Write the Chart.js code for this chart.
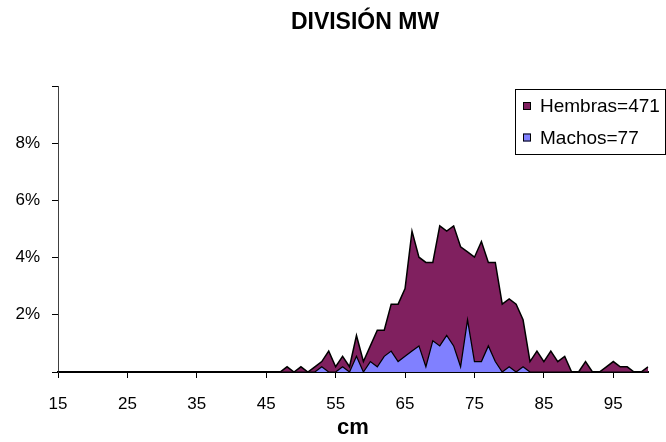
<!DOCTYPE html>
<html>
<head>
<meta charset="utf-8">
<title>División MW</title>
<script src="https://cdn.jsdelivr.net/npm/chart.js@4"></script>
<style>
  html, body { margin: 0; padding: 0; background: #fff; }
  #grafico { display: block; }
</style>
</head>
<body>
<canvas id="grafico" width="666" height="442"></canvas>
<script>
// tallas en cm, una categoría por centímetro
const tallas = [
  15, 16, 17, 18, 19, 20, 21, 22, 23, 24,
  25, 26, 27, 28, 29, 30, 31, 32, 33, 34,
  35, 36, 37, 38, 39, 40, 41, 42, 43, 44,
  45, 46, 47, 48, 49, 50, 51, 52, 53, 54,
  55, 56, 57, 58, 59, 60, 61, 62, 63, 64,
  65, 66, 67, 68, 69, 70, 71, 72, 73, 74,
  75, 76, 77, 78, 79, 80, 81, 82, 83, 84,
  85, 86, 87, 88, 89, 90, 91, 92, 93, 94,
  95, 96, 97, 98, 99, 100
];

// número de ejemplares por talla
const hembras = [
  0, 0, 0, 0, 0, 0, 0, 0, 0, 0,
  0, 0, 0, 0, 0, 0, 0, 0, 0, 0,
  0, 0, 0, 0, 0, 0, 0, 0, 0, 0,
  0, 0, 0, 1, 0, 1, 0, 1, 2, 4,
  1, 3, 1, 7, 2, 5, 8, 8, 13, 13,
  16, 27, 22, 21, 21, 28, 27, 28, 24, 23,
  22, 25, 21, 21, 13, 14, 13, 10, 2, 4,
  2, 4, 2, 3, 0, 0, 2, 0, 0, 1,
  2, 1, 1, 0, 0, 1
];
const machos = [
  0, 0, 0, 0, 0, 0, 0, 0, 0, 0,
  0, 0, 0, 0, 0, 0, 0, 0, 0, 0,
  0, 0, 0, 0, 0, 0, 0, 0, 0, 0,
  0, 0, 0, 0, 0, 0, 0, 0, 1, 0,
  0, 1, 0, 3, 0, 2, 1, 3, 4, 2,
  3, 4, 5, 1, 6, 5, 7, 5, 1, 10,
  2, 2, 5, 2, 0, 1, 0, 1, 0, 0,
  0, 0, 0, 0, 0, 0, 0, 0, 0, 0,
  0, 0, 0, 0, 0, 0
];

// etiquetas visibles en los ejes
const etiquetasX = [15, 25, 35, 45, 55, 65, 75, 85, 95];
const ticksY = [0, 2, 4, 6, 8, 10];
const etiquetasY = [2, 4, 6, 8];

const totalH = hembras.reduce((a, b) => a + b, 0);
const totalM = machos.reduce((a, b) => a + b, 0);
const total = totalH + totalM;
const pct = arr => arr.map(n => n * 100 / total);

const fuente = "'Liberation Sans', Arial, sans-serif";

// titulo y leyenda dibujados a mano
const extras = {
  id: 'extras',
  afterDraw(chart) {
    const ctx = chart.ctx;
    ctx.save();
    ctx.fillStyle = '#000';
    ctx.font = 'bold 23px ' + fuente;
    ctx.textAlign = 'center';
    ctx.textBaseline = 'middle';
    ctx.fillText('DIVISIÓN MW', 365, 23);

    // cuadro de leyenda
    ctx.fillStyle = '#fff';
    ctx.fillRect(515.5, 89.5, 150, 65);
    ctx.strokeStyle = '#000';
    ctx.lineWidth = 1;
    ctx.strokeRect(515.5, 89.5, 150, 65);

    const items = [chart.data.datasets[0], chart.data.datasets[1]];
    const filas = [106, 137.5];
    ctx.font = '19px ' + fuente;
    ctx.textAlign = 'left';
    items.forEach((ds, i) => {
      const cy = filas[i];
      ctx.fillStyle = ds.backgroundColor;
      ctx.fillRect(523, cy - 4, 8, 8);
      ctx.strokeRect(523.5, cy - 3.5, 7, 7);
      ctx.fillStyle = '#000';
      ctx.fillText(ds.label + '=' + ds.total, 540, cy + 1);
    });
    ctx.restore();
  }
};

new Chart(document.getElementById('grafico'), {
  type: 'line',
  data: {
    labels: tallas,
    datasets: [
      {
        label: 'Hembras',
        total: totalH,
        data: pct(hembras),
        backgroundColor: '#80205F',
        borderColor: '#000',
        borderWidth: 1.5,
        fill: 'origin',
        order: 2
      },
      {
        label: 'Machos',
        total: totalM,
        data: pct(machos),
        backgroundColor: '#8080FF',
        borderColor: '#000',
        borderWidth: 1.25,
        fill: 'origin',
        order: 1
      }
    ]
  },
  options: {
    responsive: false,
    animation: false,
    devicePixelRatio: 1,
    layout: { padding: { top: 86, right: 18, left: 0, bottom: 0 } },
    elements: {
      point: { radius: 0, hoverRadius: 0 },
      line: { tension: 0 }
    },
    plugins: {
      legend: { display: false },
      tooltip: { enabled: false },
      title: { display: false }
    },
    scales: {
      x: {
        type: 'category',
        offset: false,
        afterFit: s => { s.height = 70; },
        border: { color: '#000', width: 2 },
        grid: {
          drawOnChartArea: false,
          drawTicks: true,
          tickLength: 6,
          color: c => etiquetasX.includes(tallas[c.index]) ? '#000' : 'rgba(0,0,0,0)'
        },
        ticks: {
          autoSkip: false,
          maxRotation: 0,
          padding: 16,
          color: '#000',
          font: { family: fuente, size: 17 },
          callback: (v, i) => etiquetasX.includes(tallas[i]) ? String(tallas[i]) : ''
        },
        title: {
          display: true,
          text: 'cm',
          color: '#000',
          font: { family: fuente, size: 22, weight: 'bold' },
          padding: { top: 0, bottom: 1 }
        }
      },
      y: {
        min: 0,
        max: 10,
        afterFit: s => { s.width = 58; },
        afterBuildTicks: s => { s.ticks = ticksY.map(v => ({ value: v })); },
        border: { color: '#404040', width: 1 },
        grid: {
          drawOnChartArea: false,
          drawTicks: true,
          tickLength: 6,
          color: '#000'
        },
        ticks: {
          padding: 12,
          color: '#000',
          font: { family: fuente, size: 17 },
          callback: v => etiquetasY.includes(v) ? v + '%' : ''
        }
      }
    }
  },
  plugins: [extras]
});
</script>
</body>
</html>
